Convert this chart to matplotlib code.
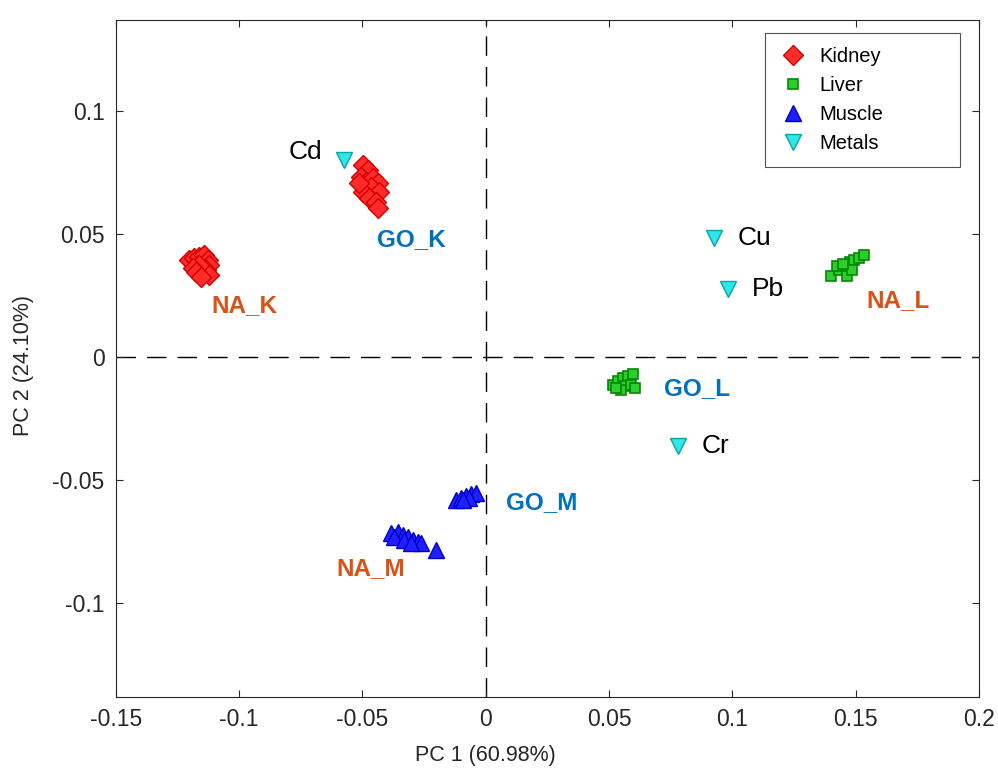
import matplotlib
matplotlib.use("Agg")
import matplotlib.pyplot as plt
import numpy as np

plt.rcParams['font.family'] = ['Liberation Sans', 'DejaVu Sans']

# ---------------------------------------------------------
# DATA (PC scores)
# ---------------------------------------------------------
kidney_na_x = [-0.1204, -0.1184, -0.1164, -0.1144, -0.1127, -0.1123, -0.1135, -0.1123, -0.1164, -0.1188, -0.1176, -0.1156]
kidney_na_y = [0.0394, 0.0402, 0.0407, 0.0415, 0.0394, 0.0374, 0.0354, 0.0333, 0.0374, 0.0362, 0.0346, 0.0325]
kidney_go_x = [-0.0499, -0.0479, -0.0507, -0.0487, -0.0458, -0.0438, -0.0466, -0.0434, -0.0499, -0.0474, -0.0446, -0.0438, -0.0515]
kidney_go_y = [0.0780, 0.0760, 0.0732, 0.0711, 0.0728, 0.0707, 0.0691, 0.0671, 0.0671, 0.0646, 0.0630, 0.0606, 0.0707]

liver_na_x = [0.1399, 0.1431, 0.1460, 0.1476, 0.1492, 0.1513, 0.1533, 0.1423, 0.1464, 0.1484, 0.1448]
liver_na_y = [0.0329, 0.0354, 0.0370, 0.0386, 0.0394, 0.0402, 0.0415, 0.0370, 0.0329, 0.0354, 0.0378]
liver_go_x = [0.0515, 0.0535, 0.0556, 0.0576, 0.0596, 0.0564, 0.0547, 0.0588, 0.0604, 0.0527]
liver_go_y = [-0.0114, -0.0098, -0.0085, -0.0077, -0.0069, -0.0118, -0.0134, -0.0114, -0.0126, -0.0126]

muscle_go_x = [-0.0122, -0.0101, -0.0081, -0.0061, -0.0041, -0.0069, -0.0093]
muscle_go_y = [-0.0581, -0.0573, -0.0565, -0.0557, -0.0553, -0.0573, -0.0581]
muscle_na_x = [-0.0385, -0.0357, -0.0337, -0.0316, -0.0296, -0.0276, -0.0264, -0.0203, -0.0373, -0.0333, -0.0304]
muscle_na_y = [-0.0715, -0.0711, -0.0724, -0.0732, -0.0744, -0.0752, -0.0756, -0.0785, -0.0732, -0.0744, -0.0756]

metal_names = ["Cd", "Cu", "Pb", "Cr"]
metal_x = [-0.0576, 0.0925, 0.0981, 0.0779]
metal_y = [0.0800, 0.0484, 0.0276, -0.0362]

group_names = ["NA_K", "GO_K", "NA_L", "GO_L", "GO_M", "NA_M"]
group_x = [-0.098, -0.030, 0.167, 0.0855, 0.0227, -0.0466]
group_y = [0.021, 0.0476, 0.023, -0.0126, -0.059, -0.086]

# ---------------------------------------------------------
# PLOT
# ---------------------------------------------------------
fig = plt.figure(figsize=(9.98, 7.69), dpi=100)
ax = fig.add_axes([0.116, 0.094, 0.865, 0.880])

ax.axvline(0, color="black", linestyle=(0, (14, 8)), linewidth=1.0, zorder=1)
ax.axhline(0, color="black", linestyle=(0, (14, 8)), linewidth=1.0, zorder=1)

kid = dict(marker="D", linestyle="none", markersize=10, markerfacecolor="#ff2a2a", markeredgecolor="#d40000", markeredgewidth=1.0)
liv = dict(marker="s", linestyle="none", markersize=7.5, markerfacecolor="#2ecc2e", markeredgecolor="#008a00", markeredgewidth=1.2)
mus = dict(marker="^", linestyle="none", markersize=11, markerfacecolor="#1f1fff", markeredgecolor="#0000c8", markeredgewidth=1.0)
met = dict(marker="v", linestyle="none", markersize=11, markerfacecolor="#33e6e6", markeredgecolor="#00a8a8", markeredgewidth=1.0)

ax.plot(kidney_na_x, kidney_na_y, label="Kidney", **kid)
ax.plot(kidney_go_x, kidney_go_y, **kid)
ax.plot(liver_na_x, liver_na_y, label="Liver", **liv)
ax.plot(liver_go_x, liver_go_y, **liv)
ax.plot(muscle_na_x, muscle_na_y, label="Muscle", **mus)
ax.plot(muscle_go_x, muscle_go_y, **mus)
ax.plot(metal_x, metal_y, label="Metals", **met)

# metal labels (Cd sits to the left of its marker)
for name, x, y in zip(metal_names, metal_x, metal_y):
    if name == "Cd":
        ax.text(x - 0.0085, y + 0.0035, name, fontsize=19, ha="right", va="center")
    else:
        ax.text(x + 0.0098, y, name, fontsize=19, ha="left", va="center")

for name, x, y in zip(group_names, group_x, group_y):
    col = "#d95319" if name.startswith("NA") else "#0072bd"
    ax.text(x, y, name, fontsize=17.5, fontweight="bold", color=col, ha="center", va="center")

ax.set_xlim(-0.15, 0.2)
ax.set_ylim(-0.138, 0.137)
ax.set_xticks([-0.15, -0.1, -0.05, 0, 0.05, 0.1, 0.15, 0.2])
ax.set_xticklabels(["-0.15", "-0.1", "-0.05", "0", "0.05", "0.1", "0.15", "0.2"])
ax.set_yticks([-0.1, -0.05, 0, 0.05, 0.1])
ax.set_yticklabels(["-0.1", "-0.05", "0", "0.05", "0.1"])
ax.tick_params(direction="in", top=True, right=True, length=5, labelsize=16.5,
               colors="#262626", pad=8)
for s in ax.spines.values():
    s.set_color("#262626")
    s.set_linewidth(0.8)

ax.set_xlabel("PC 1 (60.98%)", fontsize=15.5, color="#262626")
ax.xaxis.set_label_coords(0.15 / 0.35, -0.072)
ax.set_ylabel("PC 2 (24.10%)", fontsize=15.5, color="#262626")
ax.yaxis.set_label_coords(-0.095, 0.49)

leg = ax.legend(loc="upper left", bbox_to_anchor=(0.752, 0.5, 0.226, 0.481), mode="expand",
                borderaxespad=0, fontsize=14.5, frameon=True, fancybox=False,
                edgecolor="#262626", borderpad=0.7, labelspacing=0.5,
                handletextpad=0.6, handlelength=1.4)
leg.get_frame().set_linewidth(0.8)

fig.savefig("out.png", dpi=100)
